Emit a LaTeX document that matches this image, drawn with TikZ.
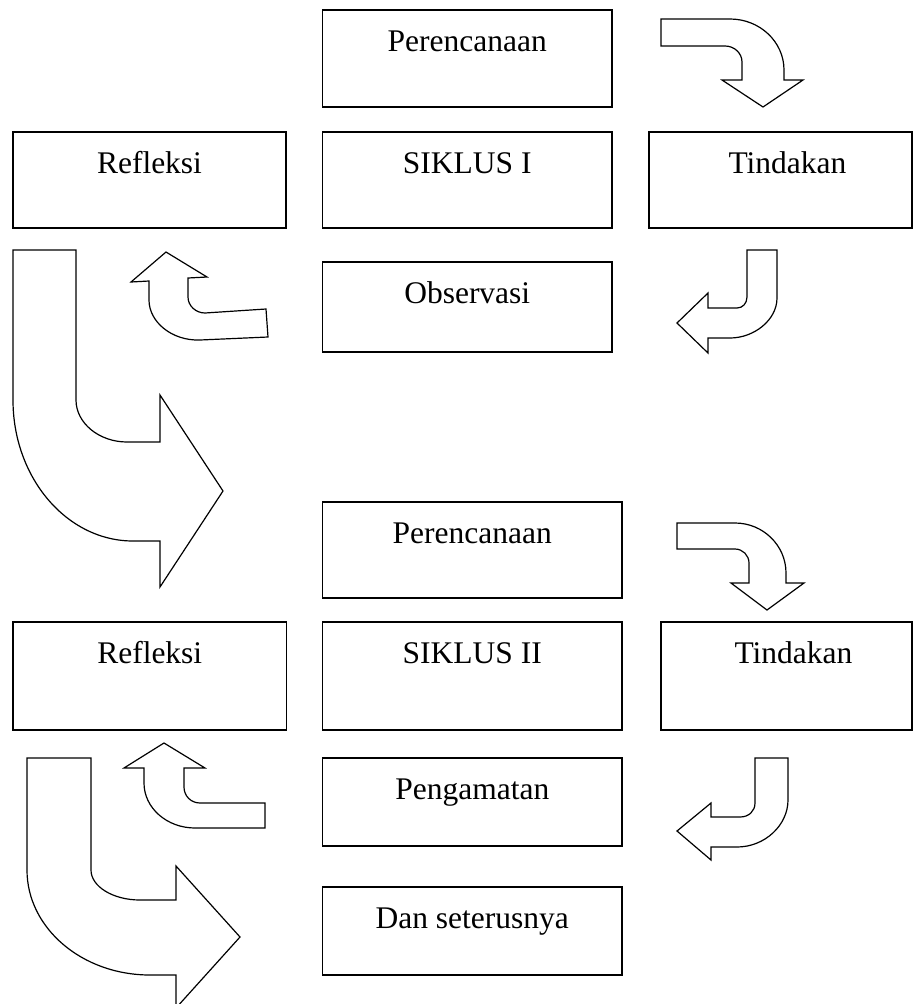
\documentclass[tikz,border=0pt]{standalone}
\usepackage{fontspec}
\setmainfont{Liberation Serif}
\begin{document}
\begin{tikzpicture}[x=1pt,y=-1pt,
  box/.style={draw,line width=1.6pt,inner sep=0pt,outer sep=0pt},
  lbl/.style={anchor=base,yshift=-41pt,inner sep=0pt,font=\fontsize{31.5pt}{36pt}\selectfont},
  arr/.style={draw,line width=1.2pt,line join=miter,fill=white}]
\useasboundingbox (0,0) rectangle (913,1004);
% ---- Siklus I ----
\node[box,minimum width=289.5pt,minimum height=97pt,label={[lbl]north:Perencanaan}] (p1) at (467.25,58.5) {};
\node[box,minimum width=273pt,minimum height=96pt,label={[lbl]north:Refleksi}] (r1) at (149.5,180) {};
\node[box,minimum width=289.5pt,minimum height=96pt,label={[lbl]north:SIKLUS I}] (s1) at (467.25,180) {};
\node[box,minimum width=263pt,minimum height=96pt,label={[lbl,xshift=7pt]north:Tindakan}] (t1) at (780.5,180) {};
\node[box,minimum width=289.5pt,minimum height=90pt,label={[lbl]north:Observasi}] (o1) at (467.25,307) {};
% ---- Siklus II ----
\node[box,minimum width=299.5pt,minimum height=96pt,label={[lbl]north:Perencanaan}] (p2) at (472.25,550) {};
\node[box,minimum width=273.5pt,minimum height=108pt,label={[lbl]north:Refleksi}] (r2) at (149.75,676) {};
\node[box,minimum width=299.5pt,minimum height=108pt,label={[lbl]north:SIKLUS II}] (s2) at (472.25,676) {};
\node[box,minimum width=251pt,minimum height=108pt,label={[lbl,xshift=7pt]north:Tindakan}] (t2) at (786.5,676) {};
\node[box,minimum width=299.5pt,minimum height=88pt,label={[lbl]north:Pengamatan}] (g2) at (472.25,802) {};
\node[box,minimum width=299.5pt,minimum height=88pt,label={[lbl]north:Dan seterusnya}] (d2) at (472.25,931) {};
% ---- arrows, cycle I ----
\path[arr] (661,19) -- (730,19) .. controls (759.8,19) and (784,41.8) .. (784,70)
  -- (784,80) -- (803,80) -- (763,107) -- (722,80) -- (742,80) -- (742,62)
  .. controls (742,53.2) and (734.4,46) .. (725,46) -- (661,46) -- cycle;
\path[arr] (747,250) -- (777,250) -- (777,298) .. controls (777,320) and (754,338) .. (730,338)
  -- (708,338) -- (708,353) -- (677,323) -- (708,293) -- (708,308) -- (737,308)
  .. controls (742.5,308) and (747,303.5) .. (747,297) -- cycle;
\path[arr] (166,252) -- (207,277) -- (188,278) -- (188,297)
  .. controls (188,306) and (196,313) .. (205,313) -- (266,309) -- (268,337) -- (200,340)
  .. controls (172,341) and (149,322) .. (149,300) -- (149,281) -- (131,282) -- cycle;
\path[arr] (13,250) -- (76,250) -- (76,400) .. controls (76,423) and (99,442) .. (127,442)
  -- (160,442) -- (160,395) -- (223,491) -- (160,587) -- (160,541) -- (133,541)
  .. controls (67,541) and (13,478) .. (13,400) -- cycle;
% ---- arrows, cycle II ----
\path[arr] (677,523) -- (735,523) .. controls (763,523) and (786,545.4) .. (786,573)
  -- (786,583) -- (804,583) -- (767,610) -- (731,583) -- (749,583) -- (749,563)
  .. controls (749,555.3) and (742.7,549) .. (735,549) -- (677,549) -- cycle;
\path[arr] (755,758) -- (788,758) -- (788,800) .. controls (788,825) and (765,847) .. (737,847)
  -- (711,847) -- (711,860) -- (677,831) -- (711,803) -- (711,817) -- (740,817)
  .. controls (749,817) and (755,811) .. (755,803) -- cycle;
\path[arr] (164,743) -- (205,768) -- (184,768) -- (184,787)
  .. controls (184,796) and (191,803) .. (200,803) -- (265,803) -- (265,828) -- (195,828)
  .. controls (167,828) and (144,808) .. (144,783) -- (144,768) -- (124,768) -- cycle;
\path[arr] (27,758) -- (91,758) -- (91,870) .. controls (91,886.5) and (113,900) .. (140,900)
  -- (176,900) -- (176,866) -- (240,937) -- (176,1008) -- (176,975) -- (150,975)
  .. controls (82,975) and (27,928) .. (27,870) -- cycle;
\end{tikzpicture}
\end{document}
